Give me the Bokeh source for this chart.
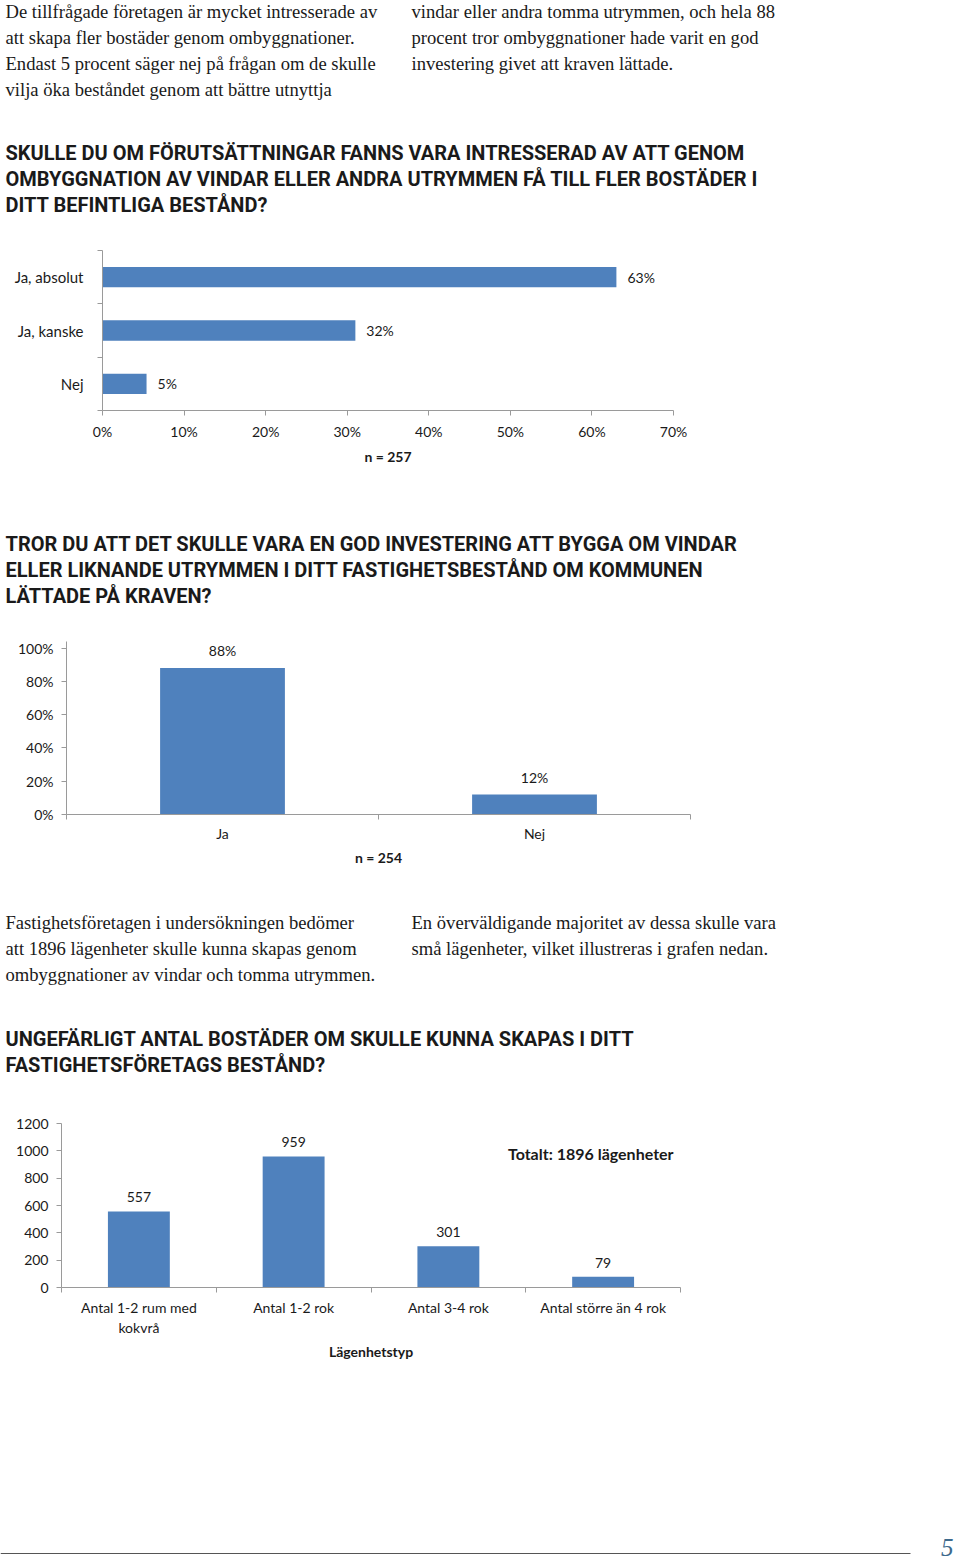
from bokeh.plotting import figure
from bokeh.models import Range1d, FixedTicker, Label, LabelSet, ColumnDataSource
from bokeh.layouts import column
from bokeh.embed import file_html
from bokeh.resources import INLINE
from bokeh.core.properties import value

W = 960
BLUE = "#4F81BD"
AXIS = "#9a9a9a"
TXT = "#1a1a1a"
SERIF = "Liberation Serif"
HEAD = "Roboto"
CHART = "Lato"

# ---------------- data / texts ----------------
para1_left = [
    "De tillfrågade företagen är mycket intresserade av",
    "att skapa fler bostäder genom ombyggnationer.",
    "Endast 5 procent säger nej på frågan om de skulle",
    "vilja öka beståndet genom att bättre utnyttja",
]
para1_right = [
    "vindar eller andra tomma utrymmen, och hela 88",
    "procent tror ombyggnationer hade varit en god",
    "investering givet att kraven lättade.",
]
heading1 = [
    "SKULLE DU OM FÖRUTSÄTTNINGAR FANNS VARA INTRESSERAD AV ATT GENOM",
    "OMBYGGNATION AV VINDAR ELLER ANDRA UTRYMMEN FÅ TILL FLER BOSTÄDER I",
    "DITT BEFINTLIGA BESTÅND?",
]
q1_categories = ["Ja, absolut", "Ja, kanske", "Nej"]
q1_values = [63, 31, 5.4]
q1_labels = ["63%", "32%", "5%"]
q1_ticks = [0, 10, 20, 30, 40, 50, 60, 70]
q1_n = "n = 257"

heading2 = [
    "TROR DU ATT DET SKULLE VARA EN GOD INVESTERING ATT BYGGA OM VINDAR",
    "ELLER LIKNANDE UTRYMMEN I DITT FASTIGHETSBESTÅND OM KOMMUNEN",
    "LÄTTADE PÅ KRAVEN?",
]
q2_categories = ["Ja", "Nej"]
q2_values = [88, 12]
q2_labels = ["88%", "12%"]
q2_ticks = [0, 20, 40, 60, 80, 100]
q2_n = "n = 254"

para2_left = [
    "Fastighetsföretagen i undersökningen bedömer",
    "att 1896 lägenheter skulle kunna skapas genom",
    "ombyggnationer av vindar och tomma utrymmen.",
]
para2_right = [
    "En överväldigande majoritet av dessa skulle vara",
    "små lägenheter, vilket illustreras i grafen nedan.",
]
heading3 = [
    "UNGEFÄRLIGT ANTAL BOSTÄDER OM SKULLE KUNNA SKAPAS I DITT",
    "FASTIGHETSFÖRETAGS BESTÅND?",
]
q3_categories = ["Antal 1-2 rum med\nkokvrå", "Antal 1-2 rok", "Antal 3-4 rok", "Antal större än 4 rok"]
q3_values = [557, 959, 301, 79]
q3_ticks = [0, 200, 400, 600, 800, 1000, 1200]
q3_total = "Totalt: 1896 lägenheter"
q3_xlabel = "Lägenhetstyp"
page_number = "5"

PARA_SIZE = "18.6px"
HEAD_SIZE = "20px"


# ---------------- helpers ----------------
def text_fig(h):
    p = figure(width=W, height=h, x_range=Range1d(0, W), y_range=Range1d(h, 0),
               output_backend="svg", toolbar_location=None, min_border=0,
               frame_align=False)
    p.axis.visible = False
    p.grid.visible = False
    p.outline_line_color = None
    return p


def add_lines(p, lines, x, y0, dy, font, size, style="normal", color=TXT):
    p.text(x=[x] * len(lines), y=[y0 + i * dy for i in range(len(lines))], text=lines,
           text_font=value(font), text_font_size=size, text_font_style=style,
           text_color=color, text_baseline="middle", text_align="left")


def style_axis(ax, fsize="14px"):
    ax.axis_line_color = AXIS
    ax.major_tick_line_color = AXIS
    ax.minor_tick_line_color = AXIS
    ax.major_tick_in = 0
    ax.minor_tick_in = 0
    ax.major_label_text_font = CHART
    ax.major_label_text_font_size = fsize
    ax.major_label_text_color = TXT
    ax.axis_label_text_font = CHART
    ax.axis_label_text_font_size = fsize
    ax.axis_label_text_font_style = "bold"
    ax.axis_label_text_color = TXT


def chart_fig(fw, fh, xr, yr, left, right, top, bottom):
    p = figure(frame_width=fw, frame_height=fh, x_range=xr, y_range=yr,
               min_border_left=left, min_border_right=right,
               min_border_top=top, min_border_bottom=bottom,
               output_backend="svg", toolbar_location=None, frame_align=False)
    p.grid.visible = False
    p.outline_line_color = None
    return p


def value_labels(p, xs, ys, texts, **kw):
    src = ColumnDataSource(dict(x=xs, y=ys, t=texts))
    p.add_layout(LabelSet(x="x", y="y", text="t", source=src, text_font=value(CHART),
                          text_font_size="14px", text_color=TXT, **kw))


# ---------------- F1: intro text + heading 1 (page y 0..235) ----------------
f1 = text_fig(235)
add_lines(f1, para1_left, 5, 11, 26, SERIF, PARA_SIZE)
add_lines(f1, para1_right, 411, 11, 26, SERIF, PARA_SIZE)
add_lines(f1, heading1, 5, 152, 26, HEAD, HEAD_SIZE, "bold")

# ---------------- F2: chart 1 (page y 235..480) ----------------
n1 = len(q1_categories)
ys1 = [n1 - 0.5 - i for i in range(n1)]
f2 = chart_fig(571, 160, Range1d(0, 70), Range1d(0, n1), 102, W - 102 - 571, 15, 70)
f2.hbar(y=ys1, left=0, right=q1_values, height=0.38, fill_color=BLUE, line_color=None)
value_labels(f2, q1_values, ys1, q1_labels, x_offset=11, text_align="left", text_baseline="middle")
style_axis(f2.xaxis[0])
style_axis(f2.yaxis[0])
f2.xaxis.ticker = FixedTicker(ticks=q1_ticks)
f2.xaxis.major_label_overrides = {t: f"{t}%" for t in q1_ticks}
f2.xaxis.major_tick_out = 5
f2.xaxis.major_label_standoff = 7
f2.xaxis.axis_label = q1_n
f2.xaxis.axis_label_standoff = 5
f2.yaxis.ticker = FixedTicker(ticks=ys1, minor_ticks=list(range(n1 + 1)))
f2.yaxis.major_label_overrides = {y: c for y, c in zip(ys1, q1_categories)}
f2.yaxis.major_label_text_font_size = "15px"
f2.yaxis.major_tick_out = 0
f2.yaxis.minor_tick_out = 5
f2.yaxis.major_label_standoff = 14

# ---------------- F3: heading 2 (page y 480..630) ----------------
f3 = text_fig(150)
add_lines(f3, heading2, 5, 63, 26, HEAD, HEAD_SIZE, "bold")

# ---------------- F4: chart 2 (page y 630..880) ----------------
n2 = len(q2_categories)
xs2 = [i + 0.5 for i in range(n2)]
f4 = chart_fig(624, 173, Range1d(0, n2), Range1d(0, 104), 66, W - 66 - 624, 11, 66)
f4.vbar(x=xs2, bottom=0, top=q2_values, width=0.4, fill_color=BLUE, line_color=None)
value_labels(f4, xs2, q2_values, q2_labels, y_offset=9, text_align="center", text_baseline="bottom")
style_axis(f4.xaxis[0])
style_axis(f4.yaxis[0])
f4.yaxis.ticker = FixedTicker(ticks=q2_ticks)
f4.yaxis.major_label_overrides = {t: f"{t}%" for t in q2_ticks}
f4.yaxis.major_tick_out = 5
f4.yaxis.major_label_standoff = 8
f4.xaxis.ticker = FixedTicker(ticks=xs2, minor_ticks=list(range(n2 + 1)))
f4.xaxis.major_label_overrides = {x: c for x, c in zip(xs2, q2_categories)}
f4.xaxis.major_tick_out = 0
f4.xaxis.minor_tick_out = 5
f4.xaxis.major_label_standoff = 5
f4.xaxis.axis_label = q2_n
f4.xaxis.axis_label_standoff = 4

# ---------------- F5: text + heading 3 (page y 880..1105) ----------------
f5 = text_fig(225)
add_lines(f5, para2_left, 5, 42, 26, SERIF, PARA_SIZE)
add_lines(f5, para2_right, 411, 42, 26, SERIF, PARA_SIZE)
add_lines(f5, heading3, 5, 158, 26, HEAD, HEAD_SIZE, "bold")

# ---------------- F6: chart 3 (page y 1105..1370) ----------------
n3 = len(q3_categories)
xs3 = [i + 0.5 for i in range(n3)]
f6 = chart_fig(619, 164, Range1d(0, n3), Range1d(0, 1200), 61, W - 61 - 619, 18, 83)
f6.vbar(x=xs3, bottom=0, top=q3_values, width=0.4, fill_color=BLUE, line_color=None)
value_labels(f6, xs3, q3_values, [str(v) for v in q3_values], y_offset=9,
             text_align="center", text_baseline="bottom")
style_axis(f6.xaxis[0])
style_axis(f6.yaxis[0])
f6.yaxis.ticker = FixedTicker(ticks=q3_ticks)
f6.yaxis.major_tick_out = 5
f6.yaxis.major_label_standoff = 8
f6.xaxis.ticker = FixedTicker(ticks=xs3, minor_ticks=list(range(n3 + 1)))
f6.xaxis.major_label_overrides = {x: c for x, c in zip(xs3, q3_categories)}
f6.xaxis.major_tick_out = 0
f6.xaxis.minor_tick_out = 5
f6.xaxis.major_label_standoff = 6
f6.xaxis.axis_label = q3_xlabel
f6.xaxis.axis_label_standoff = 4
f6.add_layout(Label(x=3.42, y=980, text=q3_total, text_align="center", text_baseline="middle",
                    text_font=CHART, text_font_size="16px", text_font_style="bold",
                    text_color=TXT))

# ---------------- F7: footer (page y 1370..1562) ----------------
f7 = text_fig(192)
f7.segment(x0=[0], y0=[183], x1=[910], y1=[183], line_color="#555555", line_width=1)
f7.text(x=[953], y=[177], text=[page_number], text_font=value(SERIF), text_font_size="25px",
        text_font_style="italic", text_color="#3d6a8c", text_align="right",
        text_baseline="middle")

layout = column(f1, f2, f3, f4, f5, f6, f7, spacing=0)
open("out.html", "w").write(file_html(layout, INLINE))
